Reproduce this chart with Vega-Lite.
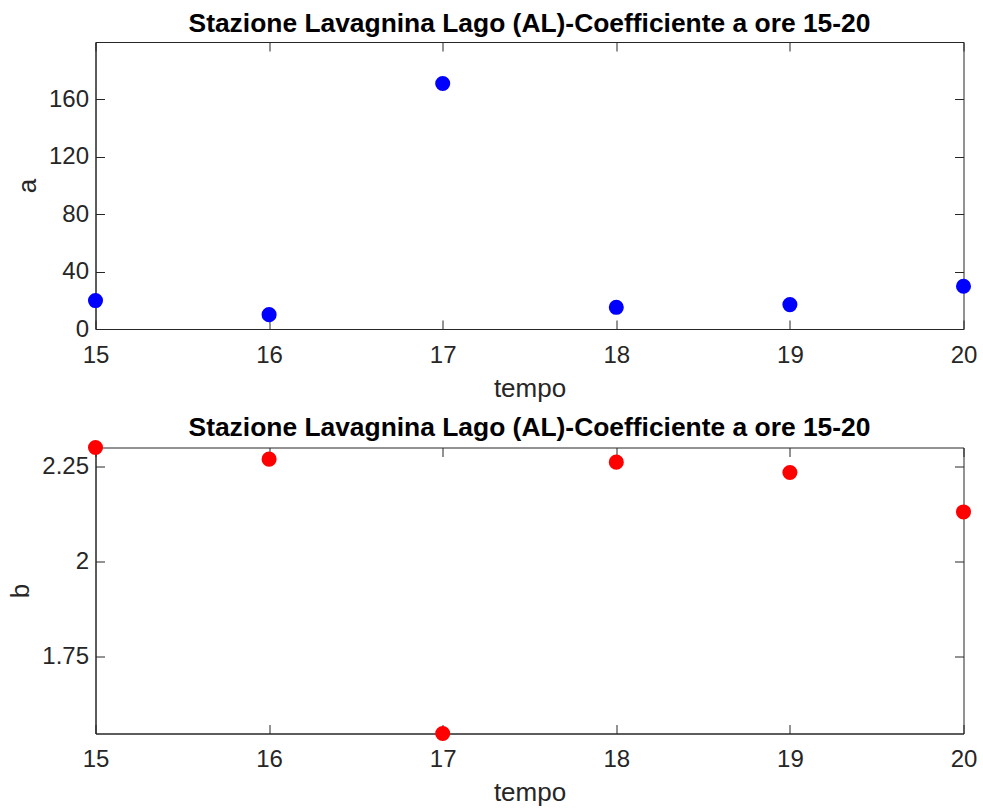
{
  "$schema": "https://vega.github.io/schema/vega-lite/v6.json",
  "background": "white",
  "padding": {"left": 6.5, "top": 10, "right": 5, "bottom": 5},
  "spacing": 11.5,
  "data": {
    "values": [
      {"tempo": 15, "a": 19.8, "b": 2.3002},
      {"tempo": 16, "a": 10.0, "b": 2.2695},
      {"tempo": 17, "a": 171.1, "b": 1.5458},
      {"tempo": 18, "a": 15.1, "b": 2.2616},
      {"tempo": 19, "a": 17.0, "b": 2.2342},
      {"tempo": 20, "a": 29.8, "b": 2.1303}
    ]
  },
  "config": {
    "font": "Liberation Sans",
    "view": {"stroke": "#262626", "strokeWidth": 1},
    "axis": {
      "labelFont": "Liberation Sans",
      "labelFontSize": 24,
      "labelColor": "#262626",
      "titleFont": "Liberation Sans",
      "titleFontSize": 26,
      "titleFontWeight": "normal",
      "titleColor": "#262626",
      "domainColor": "#262626",
      "tickColor": "#262626",
      "tickSize": -9,
      "grid": false
    },
    "title": {
      "font": "Liberation Sans",
      "fontSize": 26.4,
      "fontWeight": "bold",
      "color": "black",
      "anchor": "middle",
      "frame": "group",
      "baseline": "alphabetic"
    }
  },
  "vconcat": [
    {
      "title": {"text": "Stazione Lavagnina Lago (AL)-Coefficiente a ore 15-20", "offset": 4},
      "width": 868,
      "height": 287,
      "resolve": {"axis": {"x": "independent", "y": "independent"}},
      "layer": [
        {
          "mark": {"type": "circle", "size": 227, "opacity": 1, "color": "#0000ff", "clip": false},
          "encoding": {
            "x": {"field": "tempo", "type": "quantitative",
                  "scale": {"domain": [15, 20], "nice": false, "zero": false},
                  "axis": {"orient": "bottom", "values": [15, 16, 17, 18, 19, 20], "format": "d", "labelPadding": 23, "titlePadding": 8, "labelFlush": false}},
            "y": {"field": "a", "type": "quantitative",
                  "scale": {"domain": [0, 200], "nice": false, "zero": false},
                  "axis": {"orient": "left", "values": [0, 40, 80, 120, 160], "format": "d", "labelPadding": 16, "titlePadding": 8, "labelFlush": false}}
          }
        },
        {
          "mark": {"type": "circle", "opacity": 0},
          "encoding": {
            "x": {"field": "tempo", "type": "quantitative",
                  "axis": {"orient": "top", "values": [15, 16, 17, 18, 19, 20], "labels": false, "title": null, "domain": false}},
            "y": {"field": "a", "type": "quantitative",
                  "axis": {"orient": "right", "values": [0, 40, 80, 120, 160], "labels": false, "title": null, "domain": false}}
          }
        }
      ]
    },
    {
      "title": {"text": "Stazione Lavagnina Lago (AL)-Coefficiente a ore 15-20", "offset": -1},
      "width": 868,
      "height": 286,
      "resolve": {"axis": {"x": "independent", "y": "independent"}},
      "layer": [
        {
          "mark": {"type": "circle", "size": 227, "opacity": 1, "color": "#ff0000", "clip": false},
          "encoding": {
            "x": {"field": "tempo", "type": "quantitative",
                  "scale": {"domain": [15, 20], "nice": false, "zero": false},
                  "axis": {"orient": "bottom", "values": [15, 16, 17, 18, 19, 20], "format": "d", "labelPadding": 23, "titlePadding": 8, "labelFlush": false}},
            "y": {"field": "b", "type": "quantitative",
                  "scale": {"domain": [1.5458, 2.3002], "nice": false, "zero": false},
                  "axis": {"orient": "left", "values": [1.75, 2, 2.25], "labelExpr": "replace(format(datum.value, '.2f'), /\\.?0+$/, '')", "labelPadding": 16, "titlePadding": 8, "labelFlush": false}}
          }
        },
        {
          "mark": {"type": "circle", "opacity": 0},
          "encoding": {
            "x": {"field": "tempo", "type": "quantitative",
                  "axis": {"orient": "top", "values": [15, 16, 17, 18, 19, 20], "labels": false, "title": null, "domain": false}},
            "y": {"field": "b", "type": "quantitative",
                  "axis": {"orient": "right", "values": [1.75, 2, 2.25], "labels": false, "title": null, "domain": false}}
          }
        }
      ]
    }
  ]
}
